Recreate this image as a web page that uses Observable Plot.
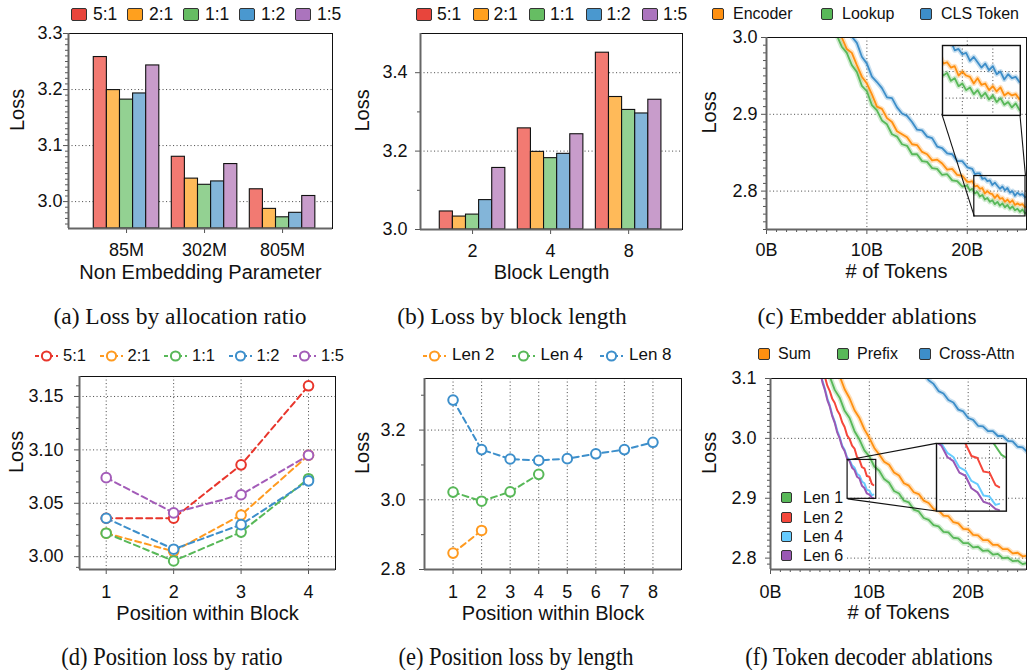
<!DOCTYPE html>
<html><head><meta charset="utf-8">
<script src="https://cdn.jsdelivr.net/npm/d3@7"></script>
<script src="https://cdn.jsdelivr.net/npm/@observablehq/plot@0.6"></script>
<style>
body{margin:0;background:#fff;}
#root{position:relative;width:1027px;height:670px;overflow:hidden;background:#fff;}
.cap{position:absolute;font-family:"Liberation Serif","Times New Roman",serif;font-size:23.5px;line-height:1;white-space:nowrap;color:#111;}
</style></head><body><div id="root"></div>
<script>
// ---------------- DATA ----------------
const ratios = ["5:1", "2:1", "1:1", "1:2", "1:5"];
const paramSizes = ["85M", "302M", "805M"];
const loss85M  = [3.258, 3.199, 3.182, 3.193, 3.243];
const loss302M = [3.080, 3.041, 3.030, 3.036, 3.067];
const loss805M = [3.022, 2.987, 2.972, 2.980, 3.010];

const blockLengths = ["2", "4", "8"];
const lossBlock2 = [3.046, 3.033, 3.038, 3.075, 3.157];
const lossBlock4 = [3.258, 3.198, 3.182, 3.193, 3.243];
const lossBlock8 = [3.451, 3.338, 3.305, 3.296, 3.331];

// (c) embedder ablations, tokens in billions
const embedders = ["Encoder", "Lookup", "CLS Token"];
const tokensC = [6.5,7,7.5,8,8.5,9,9.5,10,10.5,11,11.5,12,12.5,13,13.5,14,14.5,15,15.5,16,16.5,17,17.5,18,18.5,19,19.5,20,
  20.25,20.5,20.75,21,21.25,21.5,21.75,22,22.25,22.5,22.75,23,23.25,23.5,23.75,24,24.25,24.5,24.75,25,25.25,25.5,25.75,26];
const lossEncoder = [null,3.011,3.000,2.985,2.980,2.964,2.949,2.940,2.926,2.910,2.907,2.895,2.890,2.878,2.874,2.870,2.861,2.860,2.851,2.848,2.840,2.841,2.836,2.828,2.829,2.821,2.820,2.812,
  2.812,2.813,2.806,2.807,2.803,2.804,2.797,2.800,2.797,2.796,2.791,2.795,2.790,2.791,2.786,2.789,2.785,2.788,2.782,2.784,2.782,2.783,2.779,2.780];
const lossLookup = [3.014,3.003,2.988,2.980,2.964,2.955,2.937,2.930,2.912,2.905,2.892,2.887,2.874,2.871,2.861,2.859,2.848,2.848,2.839,2.838,2.830,2.829,2.821,2.822,2.814,2.813,2.806,2.807,
  2.801,2.803,2.797,2.799,2.793,2.795,2.789,2.791,2.786,2.788,2.783,2.786,2.781,2.784,2.779,2.782,2.777,2.780,2.775,2.777,2.773,2.776,2.771,2.773];
const lossCLS = [null,null,null,3.016,3.001,2.993,2.975,2.966,2.949,2.942,2.934,2.922,2.921,2.909,2.901,2.898,2.890,2.880,2.879,2.871,2.869,2.858,2.856,2.849,2.848,2.839,2.839,2.831,
  2.830,2.829,2.822,2.823,2.823,2.816,2.817,2.813,2.814,2.808,2.811,2.807,2.803,2.806,2.801,2.804,2.798,2.800,2.794,2.798,2.795,2.796,2.792,2.793];

// (d) position loss by ratio
const positions4 = [1, 2, 3, 4];
const posLoss51 = [3.036, 3.036, 3.086, 3.160];
const posLoss21 = [3.022, 3.005, 3.039, 3.095];
const posLoss11 = [3.022, 2.996, 3.023, 3.073];
const posLoss12 = [3.036, 3.007, 3.030, 3.071];
const posLoss15 = [3.074, 3.041, 3.058, 3.095];

// (e) position loss by block length
const lengthNames = ["Len 2", "Len 4", "Len 8"];
const positions8 = [1, 2, 3, 4, 5, 6, 7, 8];
const posLen2 = [2.847, 2.912];
const posLen4 = [3.022, 2.996, 3.023, 3.073];
const posLen8 = [3.286, 3.144, 3.117, 3.113, 3.118, 3.132, 3.144, 3.165];

// (f) token decoder ablations
const decoders = ["Sum", "Prefix", "Cross-Attn"];
const tokensLong = [5.5,6,6.5,7,7.5,8,8.5,9,9.5,10,10.5,11,11.5,12,12.5,13,13.5,14,14.5,15,15.5,16,16.5,17,17.5,18,18.5,19,19.5,20,20.5,21,21.5,22,22.5,23,23.5,24,24.5,25,25.5,26];
const lossSum = [null,null,null,3.104,3.082,3.067,3.047,3.034,3.015,3.001,2.984,2.973,2.961,2.956,2.943,2.938,2.925,2.921,2.910,2.907,2.896,2.892,2.882,2.880,2.871,2.870,2.860,2.858,2.849,2.848,2.839,2.838,2.830,2.830,2.822,2.822,2.815,2.815,2.808,2.809,2.803,2.804];
const lossPrefix = [null,3.103,3.081,3.068,3.046,3.034,3.012,2.998,2.980,2.970,2.953,2.946,2.932,2.926,2.912,2.908,2.896,2.893,2.881,2.878,2.867,2.864,2.855,2.853,2.844,2.843,2.834,2.833,2.825,2.825,2.818,2.819,2.812,2.813,2.806,2.807,2.800,2.801,2.795,2.796,2.790,2.792];
const lossCross = [null,null,null,null,null,null,null,null,null,null,null,null,null,null,null,null,null,null,null,null,3.108,3.097,3.091,3.079,3.075,3.064,3.060,3.048,3.045,3.034,3.031,3.021,3.020,3.012,3.012,3.004,3.004,2.996,2.995,2.986,2.985,2.977];
const lenNames = ["Len 1", "Len 2", "Len 4", "Len 6"];
const tokensShort = [5,5.25,5.5,5.75,6,6.25,6.5,6.75,7,7.25,7.5,7.75,8,8.25,8.5,8.75,9,9.25,9.5,9.75,10,10.25,10.4];
const lossLen2 = [null,null,3.103,3.088,3.079,3.066,3.059,3.047,3.040,3.027,3.019,3.005,2.999,2.988,2.983,2.969,2.964,2.952,2.950,2.937,2.936,2.924,2.922];
const lossLen4 = [3.115,3.097,3.083,3.067,3.055,3.039,3.028,3.013,3.002,2.988,2.981,2.968,2.964,2.955,2.951,2.941,2.938,2.928,2.925,2.914,2.913,2.905,2.906];
const lossLen6 = [3.113,3.094,3.081,3.064,3.053,3.037,3.026,3.010,3.000,2.986,2.979,2.966,2.962,2.951,2.947,2.936,2.933,2.921,2.917,2.908,2.906,2.901,2.900];

// ---------------- STYLE ----------------
const FONT = '"Liberation Sans", Arial, Helvetica, sans-serif';
const ratioSwatch = ["#e8453c", "#ffa01e", "#66bd63", "#4a98cf", "#ab74bd"];
const barFills = ["#f27a72", "#ffba59", "#93d192", "#83b5d9", "#c89ccb"];
const ratioLine = ["#e8352b", "#ff9a1f", "#58b858", "#3d8fcb", "#a35cb8"];
const lenLine = ["#ff9a1f", "#58b858", "#3d8fcb"];
const embColors = ["#ff9010", "#58b858", "#3d8ec9"];
const decColors = ["#ff9010", "#58b858", "#3d8ec9"];
const lenColors = ["#58b858", "#f5473b", "#66ccff", "#9a58b4"];
const grid = {stroke: "#555", strokeOpacity: 1, strokeDasharray: "1.1,2.4", strokeWidth: 1};
const root = document.getElementById("root");

function put(node, left, top) {
  node.style.position = "absolute";
  node.style.left = left + "px";
  node.style.top = top + "px";
  root.appendChild(node);
  return node;
}
const svgStyle = {fontFamily: FONT, fontSize: "18px", color: "#111", background: "transparent", overflow: "visible"};
const minorRange = (a, b, step, skip) => d3.range(Math.round(a / step), Math.round(b / step) + 1).map(k => +(k * step).toFixed(4)).filter(v => !skip.some(s => Math.abs(s - v) < 1e-6));

function frameMarks(xd, yd) {
  return [
    Plot.frame({stroke: "#111", strokeWidth: 1}),
    Plot.ruleX([xd[0]], {stroke: "#666", strokeWidth: 2}),
    Plot.ruleY([yd[0]], {stroke: "#666", strokeWidth: 2})
  ];
}
function yAxes(major, minor, fmt, pad) {
  return [
    Plot.axisY(minor, {tickSize: 3, tickFormat: () => "", stroke: "#555", label: null}),
    Plot.axisY(major, {tickSize: 5, tickPadding: pad, tickFormat: fmt, stroke: "#555", fill: "#111", fontSize: 18, label: null})
  ];
}
function labels(ylabel, ydx, xlabel, xdy) {
  return [
    Plot.text([ylabel], {text: d => d, frameAnchor: "left", dx: ydx, rotate: -90, fontSize: 20, fill: "#111"}),
    Plot.text([xlabel], {text: d => d, frameAnchor: "bottom", dy: xdy, fontSize: 20, fill: "#111"})
  ];
}
function noisyLine(rows) {
  return [
    Plot.line(rows, {x: "t", y: "v", z: "s", stroke: "s", strokeWidth: 5, strokeOpacity: 0.28, clip: true}),
    Plot.line(rows, {x: "t", y: "v", z: "s", stroke: "s", strokeWidth: 1.8, clip: true})
  ];
}

// ---------------- (a) ----------------
const barW = 0.168;
function barTable(groups) {
  return groups.flatMap((vals, g) => vals.map((v, j) => ({g, ratio: ratios[j], v, x1: g + (j - 2.5) * barW, x2: g + (j - 1.5) * barW})));
}
const xDomA = [-0.744, 2.64], yDomA = [2.952, 3.3];
const plotA = Plot.plot({
  width: 340, height: 300, marginLeft: 68, marginTop: 33, marginRight: 8, marginBottom: 72,
  style: svgStyle,
  x: {domain: xDomA, label: null}, y: {domain: yDomA, label: null},
  color: {domain: ratios, range: barFills},
  marks: [
    Plot.gridY([3.0, 3.1, 3.2], grid),
    Plot.rect(barTable([loss85M, loss302M, loss805M]), {x1: "x1", x2: "x2", y1: yDomA[0], y2: "v", fill: "ratio", stroke: "#111", strokeWidth: 1.1}),
    ...yAxes([3.0, 3.1, 3.2, 3.3], minorRange(2.96, 3.29, 0.01, [3.0, 3.1, 3.2]), ".1f", 1),
    Plot.axisX([0, 1, 2], {tickSize: 5, tickPadding: 10, tickFormat: i => paramSizes[i], stroke: "#555", fill: "#111", fontSize: 18, label: null}),
    ...frameMarks(xDomA, yDomA),
    ...labels("Loss", -51, "Non Embedding Parameter", 50)
  ]
});
put(plotA, 0, 0);

// ---------------- (b) ----------------
const xDomB = [-0.667, 2.69], yDomB = [3.0, 3.5];
const plotB = Plot.plot({
  width: 350, height: 300, marginLeft: 80, marginTop: 33, marginRight: 8, marginBottom: 71,
  style: svgStyle,
  x: {domain: xDomB, label: null}, y: {domain: yDomB, label: null},
  color: {domain: ratios, range: barFills},
  marks: [
    Plot.gridY([3.2, 3.4], grid),
    Plot.rect(barTable([lossBlock2, lossBlock4, lossBlock8]), {x1: "x1", x2: "x2", y1: yDomB[0], y2: "v", fill: "ratio", stroke: "#111", strokeWidth: 1.1}),
    ...yAxes([3.0, 3.2, 3.4], [3.1, 3.3], ".1f", 8),
    Plot.axisX([0, 1, 2], {tickSize: 5, tickPadding: 10, tickFormat: i => blockLengths[i], stroke: "#555", fill: "#111", fontSize: 18, label: null}),
    ...frameMarks(xDomB, yDomB),
    ...labels("Loss", -58, "Block Length", 49.5)
  ]
});
put(plotB, 340, 0);

// ---------------- line helpers ----------------
function seriesRows(xs, names, arrays) {
  return names.flatMap((s, k) => xs.map((t, i) => ({t, v: arrays[k][i], s})).filter(d => d.v != null));
}
const fmtB = d => d + "B";

// ---------------- (c) ----------------
const xDomC = [0, 25.9], yDomC = [2.75, 3.0];
const zoomCX = [20.7, 25.8], zoomCY = [2.767, 2.8196];   // zoomed window (data units)
const placeCX = [17.5, 25.25], placeCY = [2.899, 2.99];  // where the inset sits (data units)
const rowsC = seriesRows(tokensC, embedders, [lossEncoder, lossLookup, lossCLS]);
const plotC = Plot.plot({
  width: 337, height: 300, marginLeft: 76, marginTop: 37, marginRight: 1, marginBottom: 71,
  style: svgStyle,
  x: {domain: xDomC, label: null}, y: {domain: yDomC, label: null},
  color: {domain: embedders, range: embColors},
  marks: [
    Plot.gridY([2.8, 2.9], grid),
    Plot.gridX([10, 20], grid),
    ...noisyLine(rowsC),
    Plot.rect([0], {x1: zoomCX[0], x2: zoomCX[1], y1: zoomCY[0], y2: zoomCY[1], fill: "none", stroke: "#111", strokeWidth: 1.2}),
    Plot.link([0, 1], {x1: i => [zoomCX[0], zoomCX[1]][i], y1: i => [zoomCY[0], zoomCY[1]][i], x2: i => [placeCX[0], placeCX[1]][i], y2: placeCY[0], stroke: "#111", strokeWidth: 1.1}),
    ...yAxes([2.8, 2.9, 3.0], minorRange(2.75, 2.99, 0.01, [2.8, 2.9]), ".1f", 4),
    Plot.axisX(minorRange(1, 25, 1, [10, 20]), {tickSize: 3, tickFormat: () => "", stroke: "#555", label: null}),
    Plot.axisX([0, 10, 20], {tickSize: 5, tickPadding: 9, tickFormat: fmtB, stroke: "#555", fill: "#111", fontSize: 18, label: null}),
    ...frameMarks(xDomC, yDomC),
    ...labels("Loss", -57, "# of Tokens", 48)
  ]
});
put(plotC, 690, 0);
{
  const sx = plotC.scale("x"), sy = plotC.scale("y");
  const l = sx.apply(placeCX[0]), r = sx.apply(placeCX[1]);
  const t = sy.apply(placeCY[1]), b = sy.apply(placeCY[0]);
  const inset = Plot.plot({
    width: r - l, height: b - t, margin: 0, style: svgStyle,
    x: {domain: zoomCX, axis: null}, y: {domain: zoomCY, axis: null},
    color: {domain: embedders, range: embColors},
    marks: [
      Plot.frame({fill: "white", stroke: null}),
      Plot.gridX([22, 24], grid),
      Plot.gridY([2.78, 2.80], grid),
      ...noisyLine(rowsC),
      Plot.frame({stroke: "#111", strokeWidth: 1.4})
    ]
  });
  put(inset, 690 + l, t);
}

// ---------------- (d) ----------------
const xDomD = [0.604, 4.4], yDomD = [2.988, 3.1687];
const rowsD = seriesRows(positions4, ratios, [posLoss51, posLoss21, posLoss11, posLoss12, posLoss15]);
const plotD = Plot.plot({
  width: 340, height: 340, marginLeft: 79, marginTop: 46, marginRight: 5, marginBottom: 101,
  style: svgStyle,
  x: {domain: xDomD, label: null}, y: {domain: yDomD, label: null},
  color: {domain: ratios, range: ratioLine},
  marks: [
    Plot.gridY([3.0, 3.05, 3.1, 3.15], grid),
    Plot.gridX(positions4, grid),
    Plot.line(rowsD, {x: "t", y: "v", z: "s", stroke: "s", strokeWidth: 2, strokeDasharray: "6,4"}),
    Plot.dot(rowsD, {x: "t", y: "v", stroke: "s", fill: "white", r: 4.8, strokeWidth: 2}),
    ...yAxes([3.0, 3.05, 3.1, 3.15], minorRange(2.99, 3.16, 0.01, [3.0, 3.05, 3.1, 3.15]), ".2f", 11),
    Plot.axisX(positions4, {tickSize: 5, tickPadding: 11, stroke: "#555", fill: "#111", fontSize: 18, label: null}),
    ...frameMarks(xDomD, yDomD),
    ...labels("Loss", -63, "Position within Block", 50)
  ]
});
put(plotD, 0, 330);

// ---------------- (e) ----------------
const xDomE = [0, 9], yDomE = [2.8, 3.348];
const rowsE = seriesRows(positions8, lengthNames, [posLen2, posLen4, posLen8]);
const plotE = Plot.plot({
  width: 350, height: 340, marginLeft: 84, marginTop: 48, marginRight: 9, marginBottom: 101,
  style: svgStyle,
  x: {domain: xDomE, label: null}, y: {domain: yDomE, label: null},
  color: {domain: lengthNames, range: lenLine},
  marks: [
    Plot.gridY([3.0, 3.2], grid),
    Plot.gridX(positions8, grid),
    Plot.line(rowsE, {x: "t", y: "v", z: "s", stroke: "s", strokeWidth: 2, strokeDasharray: "6,4"}),
    Plot.dot(rowsE, {x: "t", y: "v", stroke: "s", fill: "white", r: 4.8, strokeWidth: 2}),
    ...yAxes([2.8, 3.0, 3.2], [2.9, 3.1, 3.3], ".1f", 14),
    Plot.axisX(positions8, {tickSize: 5, tickPadding: 11, stroke: "#555", fill: "#111", fontSize: 18, label: null}),
    ...frameMarks(xDomE, yDomE),
    ...labels("Loss", -62, "Position within Block", 50.5)
  ]
});
put(plotE, 340, 330);

// ---------------- (f) ----------------
const xDomF = [0, 25.9], yDomF = [2.781, 3.1];
const zoomFX = [7.8, 10.7], zoomFY = [2.899, 2.964];
const placeFX = [16.77, 23.84], placeFY = [2.8786, 2.9916];
const rowsFLong = seriesRows(tokensLong, decoders, [lossSum, lossPrefix, lossCross]);
const rowsFShort = seriesRows(tokensShort, ["Len 2", "Len 4", "Len 6"], [lossLen2, lossLen4, lossLen6]);
const allNames = [...decoders, ...lenNames.slice(1)];
const allColors = [...decColors, ...lenColors.slice(1)];
const plotF = Plot.plot({
  width: 337, height: 340, marginLeft: 80, marginTop: 48, marginRight: 1, marginBottom: 101,
  style: svgStyle,
  x: {domain: xDomF, label: null}, y: {domain: yDomF, label: null},
  color: {domain: allNames, range: allColors},
  marks: [
    Plot.gridY([2.8, 2.9, 3.0], grid),
    Plot.gridX([10, 20], grid),
    ...noisyLine(rowsFLong),
    Plot.line(rowsFShort, {x: "t", y: "v", z: "s", stroke: "s", strokeWidth: 2, clip: true}),
    Plot.rect([0], {x1: zoomFX[0], x2: zoomFX[1], y1: zoomFY[0], y2: zoomFY[1], fill: "none", stroke: "#111", strokeWidth: 1.2}),
    Plot.link([0, 1], {x1: zoomFX[0], y1: i => [zoomFY[1], zoomFY[0]][i], x2: placeFX[0], y2: i => [placeFY[1], placeFY[0]][i], stroke: "#111", strokeWidth: 1.1}),
    ...yAxes([2.8, 2.9, 3.0, 3.1], minorRange(2.79, 3.09, 0.01, [2.8, 2.9, 3.0]), ".1f", 9),
    Plot.axisX(minorRange(1, 25, 1, [10, 20]), {tickSize: 3, tickFormat: () => "", stroke: "#555", label: null}),
    Plot.axisX([0, 10, 20], {tickSize: 5, tickPadding: 11, tickFormat: fmtB, stroke: "#555", fill: "#111", fontSize: 18, label: null}),
    ...frameMarks(xDomF, yDomF),
    ...labels("Loss", -61, "# of Tokens", 49.5)
  ]
});
put(plotF, 690, 330);
{
  const sx = plotF.scale("x"), sy = plotF.scale("y");
  const l = sx.apply(placeFX[0]), r = sx.apply(placeFX[1]);
  const t = sy.apply(placeFY[1]), b = sy.apply(placeFY[0]);
  const inset = Plot.plot({
    width: r - l, height: b - t, margin: 0, style: svgStyle,
    x: {domain: zoomFX, axis: null}, y: {domain: zoomFY, axis: null},
    color: {domain: allNames, range: allColors},
    marks: [
      Plot.frame({fill: "white", stroke: null}),
      Plot.gridX([9, 10], grid),
      Plot.gridY([2.91, 2.95], grid),
      Plot.line(rowsFLong, {x: "t", y: "v", z: "s", stroke: "s", strokeWidth: 2, clip: true}),
      Plot.line(rowsFShort, {x: "t", y: "v", z: "s", stroke: "s", strokeWidth: 2, clip: true}),
      Plot.frame({stroke: "#111", strokeWidth: 1.4})
    ]
  });
  put(inset, 690 + l, 330 + t);
}

// ---------------- legends ----------------
function boxSwatch(w, h, color) {
  const s = document.createElement("span");
  s.style.cssText = `display:inline-block;flex:none;width:${w}px;height:${h}px;background:${color};border:1px solid #333;border-radius:2px;box-sizing:border-box;`;
  return s;
}
function lineSwatch(color) {
  const s = document.createElement("span");
  s.style.cssText = "display:inline-block;flex:none;width:23px;height:14px;";
  s.innerHTML = `<svg width="23" height="14"><line x1="0" y1="7" x2="23" y2="7" stroke="${color}" stroke-width="2" stroke-dasharray="4,3"/><circle cx="11.5" cy="7" r="4.6" fill="white" stroke="${color}" stroke-width="2"/></svg>`;
  return s;
}
function legendItem(left, cy, sw, label, fs, gap) {
  const d = document.createElement("div");
  d.style.cssText = `position:absolute;left:${left}px;top:${cy - 12}px;height:24px;display:flex;align-items:center;font-family:${FONT};font-size:${fs}px;color:#111;white-space:nowrap;`;
  sw.style.marginRight = gap + "px";
  d.appendChild(sw);
  const t = document.createElement("span");
  t.textContent = label;
  d.appendChild(t);
  root.appendChild(d);
}
ratios.forEach((r, i) => legendItem(71 + i * 56, 14, boxSwatch(16, 13, ratioSwatch[i]), r, 17.5, 6));
ratios.forEach((r, i) => legendItem(416 + i * 56.5, 14, boxSwatch(16, 13, ratioSwatch[i]), r, 17.5, 5));
[712, 821, 920].forEach((x, i) => legendItem(x, 14, boxSwatch(12, 12, embColors[i]), embedders[i], 16, 9));
ratios.forEach((r, i) => legendItem(35 + i * 64.5, 355, lineSwatch(ratioLine[i]), r, 16.5, 5));
lengthNames.forEach((r, i) => legendItem(423 + i * 88.5, 355, lineSwatch(lenLine[i]), r, 17, 6));
[758, 837, 919].forEach((x, i) => legendItem(x, 354, boxSwatch(12, 12, decColors[i]), decoders[i], 16, 8));
{
  const bg = document.createElement("div");
  bg.style.cssText = "position:absolute;left:772px;top:487px;width:73px;height:80px;background:#fff;";
  root.appendChild(bg);
  [497.7, 517.7, 536.7, 555.7].forEach((cy, i) => legendItem(781, cy, boxSwatch(11, 11, lenColors[i]), lenNames[i], 16, 11));
}

// ---------------- captions ----------------
const captions = [
  ["(a) Loss by allocation ratio", 180, 305], ["(b) Loss by block length", 512, 305], ["(c) Embedder ablations", 867, 305],
  ["(d) Position loss by ratio", 172, 644], ["(e) Position loss by length", 516, 644], ["(f) Token decoder ablations", 869, 644]
];
captions.forEach(([txt, cx, top], i) => {
  const c = document.createElement("div");
  c.className = "cap";
  c.textContent = txt;
  c.style.left = cx + "px";
  c.style.top = top + "px";
  c.style.transform = i < 3 ? "translateX(-50%)" : "translateX(-50%) scaleX(0.9)";
  if (i >= 3) c.style.fontSize = "25px";
  root.appendChild(c);
});
</script></body></html>
